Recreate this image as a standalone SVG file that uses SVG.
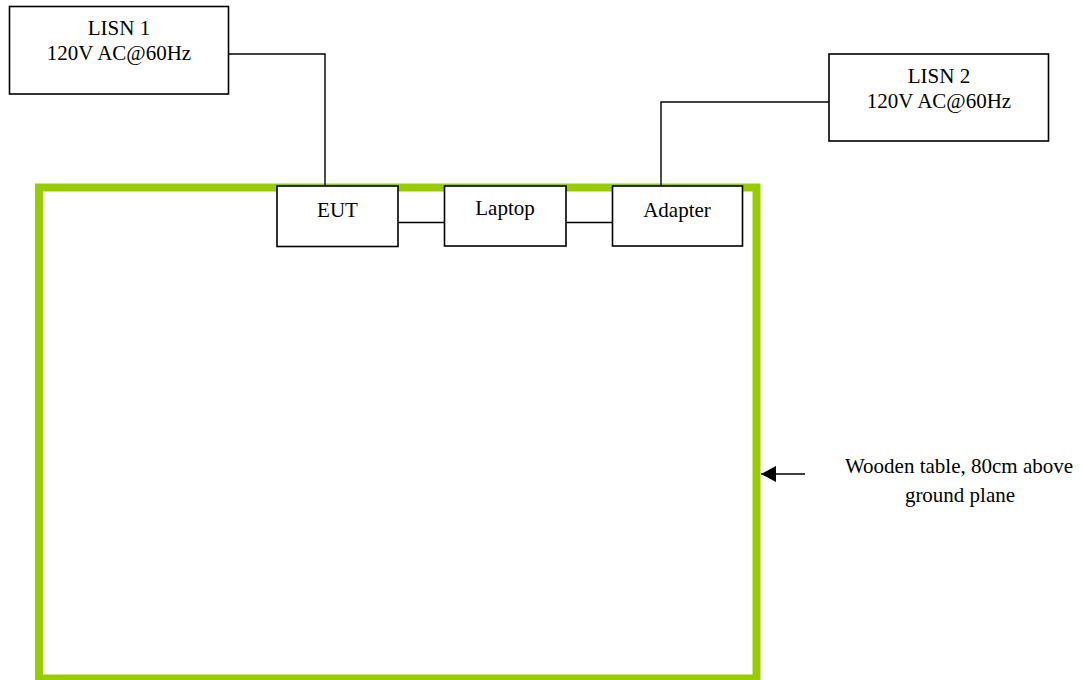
<svg xmlns="http://www.w3.org/2000/svg" width="1083" height="680" viewBox="0 0 1083 680">
<style>
.box{fill:#fff;stroke:#000;stroke-width:1.6}
.wire{fill:none;stroke:#000;stroke-width:1.4}
.t{font-family:"Liberation Serif","Times New Roman",serif;font-size:21px;fill:#000;text-anchor:middle}
</style>
<defs>
<marker id="ah" markerUnits="userSpaceOnUse" markerWidth="16" markerHeight="16" refX="15" refY="8" orient="auto">
<path d="M0,0 L15,8 L0,16 Z" fill="#000"/>
</marker>
</defs>
<rect width="1083" height="680" fill="#fff"/>
<g id="table">
<rect x="39" y="187.5" width="717.5" height="491" fill="none" stroke="#99cc00" stroke-width="8"/>
</g>
<g id="connectors">
<polyline class="wire" points="229,54 325,54 325,186"/>
<polyline class="wire" points="829,102 661,102 661,186"/>
<line class="wire" x1="398" y1="222.5" x2="444" y2="222.5"/>
<line class="wire" x1="566" y1="222.5" x2="612" y2="222.5"/>
<line class="wire" x1="805" y1="474" x2="761" y2="474" marker-end="url(#ah)"/>
</g>
<g id="lisn1">
<rect class="box" x="9.5" y="6.5" width="219" height="87.5"/>
<text class="t" x="119" y="35">LISN 1</text>
<text class="t" x="119" y="60">120V AC@60Hz</text>
</g>
<g id="lisn2">
<rect class="box" x="829" y="54" width="219.5" height="87"/>
<text class="t" x="939" y="83">LISN 2</text>
<text class="t" x="939" y="108">120V AC@60Hz</text>
</g>
<g id="eut">
<rect class="box" x="277" y="186" width="121" height="60.5"/>
<text class="t" x="337.5" y="217">EUT</text>
</g>
<g id="laptop">
<rect class="box" x="444.5" y="186" width="121.5" height="60"/>
<text class="t" x="505" y="215">Laptop</text>
</g>
<g id="adapter">
<rect class="box" x="612.5" y="186" width="130" height="60"/>
<text class="t" x="677" y="216.5">Adapter</text>
</g>
<g id="label">
<text class="t" x="959" y="473">Wooden table, 80cm above</text>
<text class="t" x="960" y="502">ground plane</text>
</g>
</svg>
